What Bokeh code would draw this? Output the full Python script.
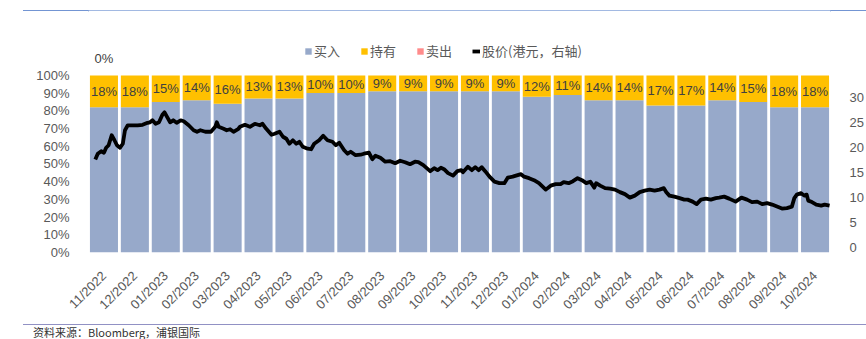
import math
from bokeh.plotting import figure
from bokeh.layouts import column
from bokeh.models import (ColumnDataSource, Range1d, LinearAxis, FixedTicker, Div,
                          NumeralTickFormatter, Legend, LegendItem, Label)
from bokeh.core.properties import value
from bokeh.embed import file_html
from bokeh.resources import INLINE

months = ["11/2022", "12/2022", "01/2023", "02/2023", "03/2023", "04/2023", "05/2023",
          "06/2023", "07/2023", "08/2023", "09/2023", "10/2023", "11/2023", "12/2023",
          "01/2024", "02/2024", "03/2024", "04/2024", "05/2024", "06/2024", "07/2024",
          "08/2024", "09/2024", "10/2024"]
buy = [82, 82, 85, 86, 84, 87, 87, 90, 90, 91, 91, 91, 91, 91, 88, 89, 86, 86, 83, 83, 86, 85, 82, 82]
hold = [18, 18, 15, 14, 16, 13, 13, 10, 10, 9, 9, 9, 9, 9, 12, 11, 14, 14, 17, 17, 14, 15, 18, 18]
sell = [0, 0, 0, 0, 0, 0, 0, 0, 0, 0, 0, 0, 0, 0, 0, 0, 0, 0, 0, 0, 0, 0, 0, 0]

# price series: position in months since start of 11/2022, price in HKD
price_month = [0.22, 0.30, 0.41, 0.50, 0.57, 0.65, 0.75, 0.84, 0.92, 1.02, 1.11, 1.18, 1.27, 1.43,
               1.59, 1.75, 1.91, 1.99, 2.07, 2.17, 2.28, 2.39, 2.46, 2.55, 2.64, 2.74, 2.85, 2.98,
               3.08, 3.24, 3.40, 3.51, 3.62, 3.78, 3.96, 4.10, 4.15, 4.21, 4.37, 4.47, 4.58, 4.69,
               4.85, 4.90, 5.06, 5.22, 5.38, 5.54, 5.63, 5.75, 5.92, 6.02, 6.18, 6.29, 6.40, 6.50,
               6.61, 6.72, 6.82, 6.93, 7.09, 7.20, 7.30, 7.46, 7.59, 7.73, 7.89, 8.00, 8.11, 8.27,
               8.38, 8.48, 8.64, 8.80, 8.91, 9.07, 9.18, 9.28, 9.44, 9.60, 9.76, 9.92, 10.08, 10.24,
               10.40, 10.56, 10.67, 10.83, 10.94, 11.05, 11.18, 11.29, 11.40, 11.50, 11.63, 11.79,
               11.93, 12.06, 12.11, 12.27, 12.40, 12.51, 12.62, 12.72, 12.83, 12.97, 13.13, 13.29,
               13.45, 13.56, 13.72, 13.88, 13.99, 14.09, 14.25, 14.41, 14.57, 14.79, 14.95, 15.11,
               15.27, 15.37, 15.53, 15.67, 15.82, 15.96, 16.10, 16.23, 16.36, 16.42, 16.55, 16.71,
               16.87, 17.03, 17.19, 17.35, 17.51, 17.67, 17.83, 17.99, 18.15, 18.31, 18.47, 18.61,
               18.69, 18.79, 18.95, 19.12, 19.27, 19.38, 19.54, 19.67, 19.81, 19.97, 20.13, 20.29,
               20.40, 20.56, 20.72, 20.93, 21.12, 21.30, 21.46, 21.63, 21.79, 21.95, 22.11, 22.27,
               22.43, 22.59, 22.75, 22.83, 22.91, 23.05, 23.15, 23.23, 23.28, 23.40, 23.54, 23.70,
               23.81, 23.97]
price = [17.55, 18.7, 19.2, 18.9, 19.9, 20.4, 22.4, 21.4, 20.4, 19.9, 20.7, 23.4, 24.4, 24.4,
         24.4, 24.5, 24.9, 25.0, 25.4, 24.7, 25.0, 26.5, 27.0, 26.0, 25.0, 25.4, 24.9, 25.4,
         25.2, 24.4, 23.4, 23.1, 23.4, 23.1, 23.1, 24.1, 25.0, 24.1, 23.7, 23.4, 23.6, 23.1,
         23.7, 24.1, 24.5, 24.1, 24.7, 24.4, 24.7, 23.7, 22.5, 22.7, 23.1, 22.1, 21.7, 20.7,
         21.4, 20.7, 21.1, 20.1, 19.7, 19.6, 20.7, 21.4, 22.3, 21.4, 21.1, 20.4, 20.9, 19.4,
         18.7, 19.1, 18.4, 18.5, 18.7, 18.9, 17.6, 18.3, 17.9, 17.1, 17.2, 16.8, 17.3, 17.0,
         16.6, 17.1, 17.0, 16.4, 15.8, 15.2, 15.8, 15.4, 15.9, 15.6, 14.8, 14.3,
         15.2, 15.4, 15.0, 16.1, 15.4, 16.0, 15.4, 16.0, 15.2, 14.1, 13.1, 12.8,
         12.8, 13.9, 14.1, 14.4, 14.6, 14.1, 13.8, 13.4, 12.8, 11.5, 12.3, 12.6,
         12.6, 13.0, 12.8, 13.2, 13.8, 13.4, 12.8, 13.1, 11.9, 12.8, 12.3, 11.8,
         11.7, 11.5, 11.0, 10.6, 9.9, 10.3, 11.0, 11.3, 11.5, 11.3, 11.5, 11.8,
         11.0, 10.3, 10.1, 9.8, 9.5, 9.5, 9.1, 8.6, 9.5, 9.7, 9.5, 9.8,
         9.9, 10.1, 9.7, 9.1, 9.9, 9.5, 9.0, 9.1, 8.6, 8.8, 8.5, 8.1,
         7.7, 7.8, 8.1, 9.8, 10.5, 10.8, 10.3, 10.5, 9.3, 9.0, 8.5, 8.3,
         8.5, 8.3]

BUY_C, HOLD_C, SELL_C = "#97A9CA", "#FFC000", "#FF8B8B"
AX_C = "#595959"
FONT = "Liberation Sans"
CJK = "Noto Sans CJK SC"

xs = list(range(len(months)))
src = ColumnDataSource(dict(
    x=xs,
    buy=[b / 100 for b in buy],
    hold=[h / 100 for h in hold],
    sell=[s / 100 for s in sell],
    hold_y=[(b + h / 2) / 100 for b, h in zip(buy, hold)],
    hold_txt=[f"{h}%" for h in hold],
))

# frame: y 10..255 of the page (245 px), 100% at y=75.7
FIG_H = 310
p = figure(width=866, height=FIG_H, output_backend="svg", toolbar_location=None,
           x_range=Range1d(-0.5, len(months) - 0.5), y_range=Range1d(0, 245 / 179.3),
           min_border_left=88, min_border_right=29, min_border_top=0, min_border_bottom=65)
p.outline_line_color = None
p.xgrid.visible = False
p.ygrid.visible = False
p.background_fill_color = "white"
p.border_fill_color = "white"

bars = p.vbar_stack(["buy", "hold", "sell"], x="x", width=0.907, source=src,
                    fill_color=[BUY_C, HOLD_C, SELL_C], line_color=None)

p.text(x="x", y="hold_y", text="hold_txt", source=src, text_align="center",
       text_baseline="middle", text_font=value(FONT), text_font_size="13px",
       text_color="#404040")

p.extra_y_ranges = {"price": Range1d(-1.1, -1.1 + 245 / 5.0507)}
line_x = [m - 0.5 for m in price_month]
lr = p.line(line_x, price, y_range_name="price", line_color="black", line_width=3.8,
            line_join="round")

# axes
xa = p.xaxis[0]
xa.ticker = FixedTicker(ticks=xs)
xa.major_label_overrides = {i: m for i, m in enumerate(months)}
xa.major_label_orientation = math.pi / 4
ya = p.yaxis[0]
ya.ticker = FixedTicker(ticks=[0, 0.1, 0.2, 0.3, 0.4, 0.5, 0.6, 0.7, 0.8, 0.9, 1.0])
ya.formatter = NumeralTickFormatter(format="0%")
ra = LinearAxis(y_range_name="price", ticker=FixedTicker(ticks=[0, 5, 10, 15, 20, 25, 30]))
p.add_layout(ra, "right")

for ax, standoff in ((xa, 15), (ya, 13), (ra, 13)):
    ax.axis_line_color = None
    ax.major_tick_line_color = None
    ax.minor_tick_line_color = None
    ax.major_label_text_font = FONT
    ax.major_label_text_font_size = "13px"
    ax.major_label_text_color = AX_C
    ax.major_label_standoff = standoff

legend = Legend(items=[
    LegendItem(label="买入", renderers=[bars[0]]),
    LegendItem(label="持有", renderers=[bars[1]]),
    LegendItem(label="卖出", renderers=[bars[2]]),
    LegendItem(label="股价(港元，右轴)", renderers=[lr]),
], orientation="horizontal", location=(216, 192), glyph_width=8, glyph_height=8,
    label_standoff=2, spacing=20, padding=0, margin=0, label_height=16,
    border_line_color=None, background_fill_alpha=0,
    label_text_font=CJK, label_text_font_size="13px", label_text_color=AX_C)
p.add_layout(legend)

p.add_layout(Label(x=0, y=1, y_offset=17, text="0%", text_align="center",
                   text_baseline="middle", text_font=FONT, text_font_size="13px",
                   text_color="#404040"))

top_rule = Div(text='<div style="margin:4px 0 0 23px;width:843px;border-top:2px solid #4472C4;"></div>',
               width=866, height=10, margin=0)
bottom_note = Div(text='<div style="margin:4px 0 0 23px;width:843px;border-top:1px solid #9191C4;"></div>'
                       '<div style="margin:1px 0 0 33px;font-family:\'Noto Sans CJK SC\';font-size:11px;'
                       'line-height:12px;color:#333333;white-space:nowrap;">资料来源：Bloomberg，浦银国际</div>',
                  width=866, height=19, margin=0)

layout = column(top_rule, p, bottom_note, spacing=0)
open("out.html", "w").write(file_html(layout, INLINE))
